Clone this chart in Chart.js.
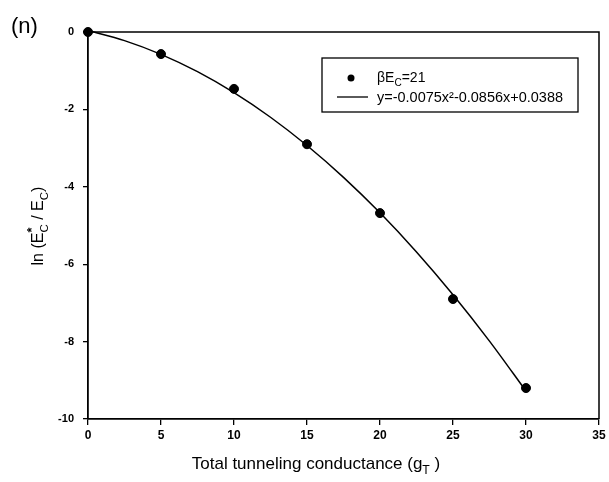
<!DOCTYPE html>
<html>
<head>
<meta charset="utf-8">
<script src="https://cdn.jsdelivr.net/npm/chart.js@4"></script>
<style>
html,body{margin:0;padding:0;background:#fff;}
#wrap{width:609px;height:482px;position:relative;}
</style>
</head>
<body>
<div id="wrap"><canvas id="c" width="609" height="482"></canvas></div>
<script>
// measured points (beta*Ec = 21)
const gT = [0, 5, 10, 15, 20, 25, 30];
const lnE = [0, -0.57, -1.47, -2.9, -4.68, -6.9, -9.2];
// fitted curve values
const fitX = [0, 2.5, 5, 7.5, 10, 12.5, 15, 17.5, 20, 22.5, 25, 27.5, 30];
const fitY = [0.039, -0.222, -0.577, -1.025, -1.567, -2.203, -2.933, -3.756, -4.673, -5.684, -6.789, -7.987, -9.279];
const xTicks = [0, 5, 10, 15, 20, 25, 30, 35];
const yTicks = [0, -2, -4, -6, -8, -10];
const legendLabels = ["\u03B2E|C|=21", "y=-0.0075x\u00B2-0.0856x+0.0388"];

const FONT = "'Liberation Sans', Arial, sans-serif";

function drawRich(ctx, parts, x, y, size) {
  let cx = x;
  for (const [t, m] of parts) {
    let s = size, dy = 0;
    if (m === 'sub') { s = size * 0.72; dy = size * 0.3; }
    if (m === 'sup') { s = size * 0.72; dy = -size * 0.4; }
    ctx.font = s + "px " + FONT;
    ctx.fillText(t, cx, y + dy);
    cx += ctx.measureText(t).width;
  }
  return cx - x;
}
function richWidth(ctx, parts, size) {
  let w = 0;
  for (const [t, m] of parts) {
    let s = (m === 'n') ? size : size * 0.72;
    ctx.font = s + "px " + FONT;
    w += ctx.measureText(t).width;
  }
  return w;
}

const decor = {
  id: 'decor',
  afterDraw(chart) {
    const ctx = chart.ctx;
    const a = chart.chartArea;
    ctx.save();
    ctx.strokeStyle = '#000';
    ctx.lineWidth = 1.5;
    ctx.beginPath();
    ctx.moveTo(a.left, a.top);
    ctx.lineTo(a.right, a.top);
    ctx.lineTo(a.right, a.bottom);
    ctx.stroke();
    ctx.fillStyle = '#000';
    ctx.textBaseline = 'alphabetic';
    // panel label
    ctx.font = "22px " + FONT;
    ctx.fillText("(n)", 11, 33);
    // x title
    const xp = [["Total tunneling conductance (g", 'n'], ["T", 'sub'], [" )", 'n']];
    const xs = 17;
    const xw = richWidth(ctx, xp, xs);
    drawRich(ctx, xp, 316 - xw / 2, 469, xs);
    // y title
    const yp = [["ln (E", 'n'], ["C", 'sub'], [" / E", 'n'], ["C", 'sub'], [")", 'n']];
    const ys = 16;
    const yw = richWidth(ctx, yp, ys);
    ctx.save();
    ctx.translate(43, 226);
    ctx.rotate(-Math.PI / 2);
    const sx = -yw / 2;
    drawRich(ctx, [["ln (E", 'n']], sx, 0, ys);
    ctx.font = ys + "px " + FONT;
    const w1 = ctx.measureText("ln (E").width;
    ctx.font = "bold " + (ys * 0.8) + "px " + FONT;
    ctx.fillText("*", sx + w1, -ys * 0.42);
    drawRich(ctx, [["C", 'sub'], [" / E", 'n'], ["C", 'sub'], [")", 'n']], sx + w1, 0, ys);
    ctx.restore();
    // legend box
    ctx.lineWidth = 1.3;
    ctx.strokeRect(322, 58, 256, 54);
    ctx.beginPath();
    ctx.arc(351, 78, 3.5, 0, Math.PI * 2);
    ctx.fill();
    const lp1 = legendLabels[0].split('|');
    drawRich(ctx, [[lp1[0], 'n'], [lp1[1], 'sub'], [lp1[2], 'n']], 377, 82, 14);
    ctx.lineWidth = 1.3;
    ctx.beginPath();
    ctx.moveTo(337, 97);
    ctx.lineTo(368, 97);
    ctx.stroke();
    ctx.font = "14px " + FONT;
    const lt = legendLabels[1];
    const lw = ctx.measureText(lt).width;
    ctx.save();
    ctx.translate(377, 102);
    ctx.scale(186 / lw, 1);
    ctx.fillText(lt, 0, 0);
    ctx.restore();
    ctx.restore();
  }
};

new Chart(document.getElementById('c'), {
  type: 'scatter',
  data: {
    datasets: [
      {
        type: 'line',
        data: fitX.map((x, i) => ({x: x, y: fitY[i]})),
        borderColor: '#000',
        borderWidth: 1.5,
        pointRadius: 0,
        cubicInterpolationMode: 'monotone',
        fill: false,
        clip: false
      },
      {
        data: gT.map((x, i) => ({x: x, y: lnE[i]})),
        backgroundColor: '#000',
        borderColor: '#000',
        pointRadius: 4.5,
        pointHoverRadius: 4.5,
        clip: false
      }
    ]
  },
  options: {
    responsive: false,
    animation: false,
    events: [],
    layout: { padding: { left: 0, right: 10, top: 32, bottom: 0 } },
    plugins: { legend: { display: false }, tooltip: { enabled: false } },
    scales: {
      x: {
        type: 'linear', min: 0, max: 35,
        afterBuildTicks: s => { s.ticks = xTicks.map(v => ({value: v})); },
        afterFit: s => { s.height = 63; },
        grid: { display: true, drawOnChartArea: false, tickLength: 6, color: '#000', lineWidth: 1.3 },
        border: { display: true, color: '#000', width: 1.8 },
        ticks: { color: '#000', padding: 3, font: { family: FONT, size: 12, weight: 'bold' } }
      },
      y: {
        type: 'linear', min: -10, max: 0,
        afterBuildTicks: s => { s.ticks = yTicks.map(v => ({value: v})); },
        afterFit: s => { s.width = 88; },
        grid: { display: true, drawOnChartArea: false, tickLength: 5, color: '#000', lineWidth: 1.3 },
        border: { display: true, color: '#000', width: 1.8 },
        ticks: { color: '#000', padding: 9, font: { family: FONT, size: 11, weight: 'bold' } }
      }
    }
  },
  plugins: [decor]
});
</script>
</body>
</html>
